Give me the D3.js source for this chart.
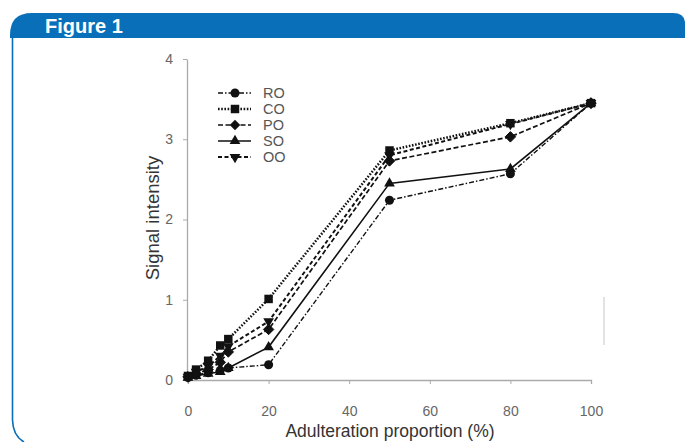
<!DOCTYPE html>
<html>
<head>
<meta charset="utf-8">
<script src="https://cdn.jsdelivr.net/npm/d3@7"></script>
<style>
  body { margin: 0; background: #fff; }
  svg { display: block; font-family: "Liberation Sans", Arial, sans-serif; }
</style>
</head>
<body>
<svg width="685" height="442"></svg>
<script>
// data
const proportions = [0, 2, 5, 8, 10, 20, 50, 80, 100];
const seriesNames = ["RO", "CO", "PO", "SO", "OO"];
const roValues = [0.03, 0.06, 0.09, 0.12, 0.15, 0.19, 2.24, 2.57, 3.45];
const coValues = [0.05, 0.13, 0.24, 0.43, 0.51, 1.01, 2.86, 3.20, 3.45];
const poValues = [0.04, 0.08, 0.13, 0.22, 0.35, 0.63, 2.73, 3.03, 3.45];
const soValues = [0.03, 0.05, 0.08, 0.10, 0.15, 0.41, 2.45, 2.63, 3.45];
const ooValues = [0.04, 0.10, 0.17, 0.30, 0.42, 0.73, 2.80, 3.19, 3.45];
const xTicks = [0, 20, 40, 60, 80, 100];
const yTicks = [0, 1, 2, 3, 4];

const series = [
  {name: seriesNames[0], values: roValues, symbol: d3.symbolCircle, size: 64, dash: "5,2,1.5,2", width: 1.4},
  {name: seriesNames[1], values: coValues, symbol: d3.symbolSquare, size: 72, dash: "1.6,1.6", width: 2.5},
  {name: seriesNames[2], values: poValues, symbol: d3.symbolDiamond2, size: 70, dash: "5,2.5", width: 1.7},
  {name: seriesNames[3], values: soValues, symbol: d3.symbolTriangle, size: 50, dash: null, width: 1.6},
  {name: seriesNames[4], values: ooValues, symbol: d3.symbolTriangle, size: 50, dash: "4,2.5", width: 2, flip: true}
];

const svg = d3.select("svg");

// frame: blue header band + left border
const blue = "#0a6fb9";
svg.append("path")
  .attr("d", "M10,38 L10,35 Q10,13 32,13 L673,13 Q684,13 685,22 L685,38 Z")
  .attr("fill", blue);
svg.append("path")
  .attr("d", "M12.5,38 L12.5,420 Q13,436 24,442")
  .attr("fill", "none")
  .attr("stroke", blue)
  .attr("stroke-width", 1.6);
svg.append("text")
  .attr("x", 45)
  .attr("y", 33)
  .attr("fill", "#fff")
  .attr("font-size", "20px")
  .attr("font-weight", "bold")
  .text("Figure 1");

// plot area
const x = d3.scaleLinear().domain([0, 100]).range([188, 591]);
const y = d3.scaleLinear().domain([0, 4]).range([380, 59]);

const xAxis = svg.append("g")
  .attr("transform", "translate(0,380)")
  .call(d3.axisBottom(x).tickValues(xTicks).tickSize(4).tickSizeOuter(4).tickPadding(22));
const yAxis = svg.append("g")
  .attr("transform", "translate(187,0)")
  .call(d3.axisLeft(y).tickValues(yTicks).tickFormat(d3.format("d")).tickSize(4).tickSizeOuter(0).tickPadding(10));
[xAxis, yAxis].forEach(a => {
  a.select(".domain").attr("stroke", "#aaa").attr("stroke-width", 1.3);
  a.selectAll(".tick line").attr("stroke", "#aaa");
  a.selectAll(".tick text").attr("fill", "#666").attr("font-size", "14px")
    .attr("font-family", "Liberation Sans, Arial, sans-serif");
});

svg.append("text")
  .attr("x", 390)
  .attr("y", 437)
  .attr("text-anchor", "middle")
  .attr("font-size", "17.5px")
  .attr("fill", "#333")
  .text("Adulteration proportion (%)");
svg.append("text")
  .attr("transform", "translate(159,218) rotate(-90)")
  .attr("text-anchor", "middle")
  .attr("font-size", "18.5px")
  .attr("fill", "#333")
  .text("Signal intensity");

// stray scan mark at right
svg.append("rect")
  .attr("x", 603).attr("y", 297).attr("width", 2).attr("height", 48)
  .attr("fill", "#e2e2e2");

const line = d3.line()
  .x((d, i) => x(proportions[i]))
  .y(d => y(d));

series.forEach(s => {
  svg.append("path")
    .datum(s.values)
    .attr("d", line)
    .attr("fill", "none")
    .attr("stroke", "#111")
    .attr("stroke-width", s.width)
    .attr("stroke-dasharray", s.dash);
});

series.forEach(s => {
  svg.selectAll(null)
    .data(s.values)
    .enter().append("path")
    .attr("d", d3.symbol().type(s.symbol).size(s.size))
    .attr("transform", (d, i) => `translate(${x(proportions[i])},${y(d)})${s.flip ? " rotate(180)" : ""}`)
    .attr("fill", "#111")
    .attr("stroke", s.symbol === d3.symbolDiamond2 ? "#111" : "none");
});

// legend
const legend = svg.append("g").attr("transform", "translate(218,93)");
series.forEach((s, i) => {
  const row = legend.append("g").attr("transform", `translate(0,${i * 16})`);
  row.append("line")
    .attr("x1", 0).attr("x2", 33)
    .attr("stroke", "#111")
    .attr("stroke-width", s.width)
    .attr("stroke-dasharray", s.dash);
  row.append("path")
    .attr("d", d3.symbol().type(s.symbol).size(s.size))
    .attr("transform", `translate(17,0)${s.flip ? " rotate(180)" : ""}`)
    .attr("fill", "#111");
  row.append("text")
    .attr("x", 45)
    .attr("y", 5)
    .attr("font-size", "14.5px")
    .attr("fill", "#555")
    .text(s.name);
});
</script>
</body>
</html>
